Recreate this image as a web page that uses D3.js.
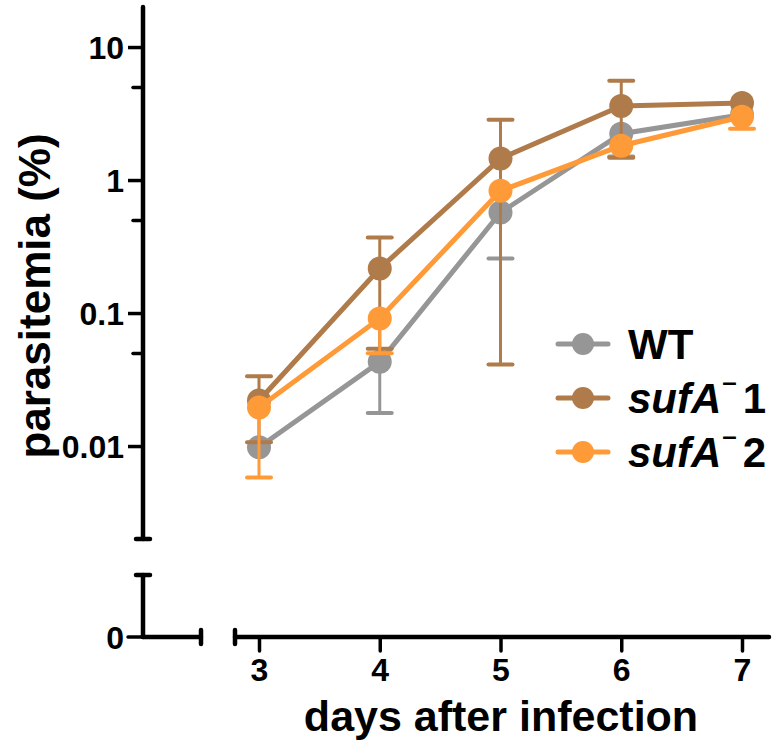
<!DOCTYPE html>
<html>
<head>
<meta charset="utf-8">
<script src="https://cdn.jsdelivr.net/npm/d3@7"></script>
<style>
  body { margin: 0; background: #fff; }
  text { font-family: "Liberation Sans", Arial, sans-serif; font-weight: bold; fill: #000; }
</style>
</head>
<body>
<div id="chart"></div>
<script>
const days = [3, 4, 5, 6, 7];

const wtMean = [0.0098, 0.043, 0.57, 2.23, 3.1];
const wtLow = [null, 0.0177, 0.257, 1.5, null];
const wtHigh = [null, null, null, null, null];

const sufA1Mean = [0.022, 0.216, 1.45, 3.6, 3.8];
const sufA1Low = [0.0107, 0.054, 0.041, 1.47, null];
const sufA1High = [0.0335, 0.37, 2.84, 5.57, null];

const sufA2Mean = [0.0195, 0.091, 0.83, 1.81, 2.99];
const sufA2Low = [0.0058, 0.0499, null, null, 2.43];
const sufA2High = [null, null, null, null, null];

const yTicks = [0.01, 0.1, 1, 10];
const yTickLabels = ['0.01', '0.1', '1', '10'];
const yMinorTicks = [0.05, 0.5, 5];

const series = [
    { name: 'WT', color: '#969696', mean: wtMean, low: wtLow, high: wtHigh },
    { name: 'sufA', num: '1', color: '#B07B4B', mean: sufA1Mean, low: sufA1Low, high: sufA1High },
    { name: 'sufA', num: '2', color: '#FF9A38', mean: sufA2Mean, low: sufA2Low, high: sufA2High }
];

const svg = d3.select('#chart').append('svg')
    .attr('width', 778)
    .attr('height', 748);

const axisX = 143;
const zeroY = 637;

const x = d3.scaleLinear().domain([3, 7]).range([259, 742]);
const y = d3.scaleLog().domain([0.002, 20]).range([539, 7]);

// y axis, upper (log) part
const yAxis = svg.append('g')
    .attr('transform', `translate(${axisX},0)`)
    .call(d3.axisLeft(y).tickValues(yTicks).tickFormat((d, i) => yTickLabels[i]).tickSize(15).tickPadding(4));
yAxis.select('.domain').remove();
yAxis.selectAll('line').attr('stroke-width', 3.5);
yAxis.selectAll('text').style('font-size', '32px').attr('dy', '0.36em');

const yMinor = svg.append('g')
    .attr('transform', `translate(${axisX},0)`)
    .call(d3.axisLeft(y).tickValues(yMinorTicks).tickFormat('').tickSize(10));
yMinor.select('.domain').remove();
yMinor.selectAll('line').attr('stroke-width', 3.5).attr('stroke-linecap', 'round');

const axisLines = svg.append('g')
    .attr('stroke', '#000')
    .attr('stroke-width', 4.5)
    .attr('stroke-linecap', 'round');

// upper y segment with end cap
axisLines.append('line').attr('x1', axisX).attr('x2', axisX).attr('y1', y(20)).attr('y2', y(0.002));
axisLines.append('line').attr('x1', axisX - 7).attr('x2', axisX + 7).attr('y1', y(0.002)).attr('y2', y(0.002));
// lower y segment
axisLines.append('line').attr('x1', axisX).attr('x2', axisX).attr('y1', 575).attr('y2', zeroY);
axisLines.append('line').attr('x1', axisX - 7).attr('x2', axisX + 7).attr('y1', 575).attr('y2', 575);
// zero tick
axisLines.append('line').attr('x1', axisX - 15).attr('x2', axisX).attr('y1', zeroY).attr('y2', zeroY)
    .attr('stroke-width', 3.5);
svg.append('text').attr('x', axisX - 19).attr('y', zeroY).attr('dy', '0.36em')
    .attr('text-anchor', 'end').style('font-size', '32px').text('0');

// x axis, left piece
axisLines.append('line').attr('x1', axisX).attr('x2', 201).attr('y1', zeroY).attr('y2', zeroY);
axisLines.append('line').attr('x1', 201).attr('x2', 201).attr('y1', zeroY - 7).attr('y2', zeroY + 7);
// x axis, right piece
axisLines.append('line').attr('x1', 235).attr('x2', 769).attr('y1', zeroY).attr('y2', zeroY);
axisLines.append('line').attr('x1', 235).attr('x2', 235).attr('y1', zeroY - 7).attr('y2', zeroY + 7);

const xAxis = svg.append('g')
    .attr('transform', `translate(0,${zeroY})`)
    .call(d3.axisBottom(x).tickValues(days).tickFormat(d3.format('d')).tickSize(14).tickPadding(7));
xAxis.select('.domain').remove();
xAxis.selectAll('line').attr('stroke-width', 3.5).attr('stroke-linecap', 'round');
xAxis.selectAll('text').style('font-size', '32px');

// axis titles
svg.append('text')
    .attr('transform', 'translate(50,296) rotate(-90)')
    .attr('text-anchor', 'middle')
    .style('font-size', '44px')
    .text('parasitemia (%)');

svg.append('text')
    .attr('x', 501).attr('y', 731)
    .attr('text-anchor', 'middle')
    .style('font-size', '43px')
    .text('days after infection');

// data
const line = d3.line()
    .x(d => x(d.day))
    .y(d => y(d.v));

series.forEach(s => {
    const pts = days.map((day, i) => ({ day: day, v: s.mean[i], lo: s.low[i], hi: s.high[i] }));
    const g = svg.append('g');

    const bars = g.append('g')
        .attr('stroke', s.color)
        .attr('stroke-linecap', 'round');
    pts.forEach(p => {
        [p.lo, p.hi].forEach(e => {
            if (e === null) return;
            bars.append('line')
                .attr('x1', x(p.day)).attr('x2', x(p.day))
                .attr('y1', y(p.v)).attr('y2', y(e))
                .attr('stroke-width', 3);
            bars.append('line')
                .attr('x1', x(p.day) - 12).attr('x2', x(p.day) + 12)
                .attr('y1', y(e)).attr('y2', y(e))
                .attr('stroke-width', 4);
        });
    });

    g.append('path')
        .datum(pts)
        .attr('fill', 'none')
        .attr('stroke', s.color)
        .attr('stroke-width', 5)
        .attr('d', line);

    g.selectAll('circle')
        .data(pts)
        .enter().append('circle')
        .attr('cx', d => x(d.day))
        .attr('cy', d => y(d.v))
        .attr('r', 12)
        .attr('fill', s.color);
});

// legend
const legend = svg.append('g');
const legendRows = [344, 398, 452];
series.forEach((s, i) => {
    const ly = legendRows[i];
    legend.append('line')
        .attr('x1', 558).attr('x2', 608)
        .attr('y1', ly).attr('y2', ly)
        .attr('stroke', s.color)
        .attr('stroke-width', 5)
        .attr('stroke-linecap', 'round');
    legend.append('circle')
        .attr('cx', 583).attr('cy', ly).attr('r', 11)
        .attr('fill', s.color);
    const t = legend.append('text')
        .attr('x', 628).attr('y', ly + 15)
        .style('font-size', '42px');
    if (s.num) {
        t.append('tspan').style('font-style', 'italic').text(s.name);
        t.append('tspan').attr('dy', -22).attr('dx', 1).style('font-size', '26px').text('\u2013');
        t.append('tspan').attr('dy', 22).attr('dx', 6).text(s.num);
    } else {
        t.text(s.name);
    }
});
</script>
</body>
</html>
